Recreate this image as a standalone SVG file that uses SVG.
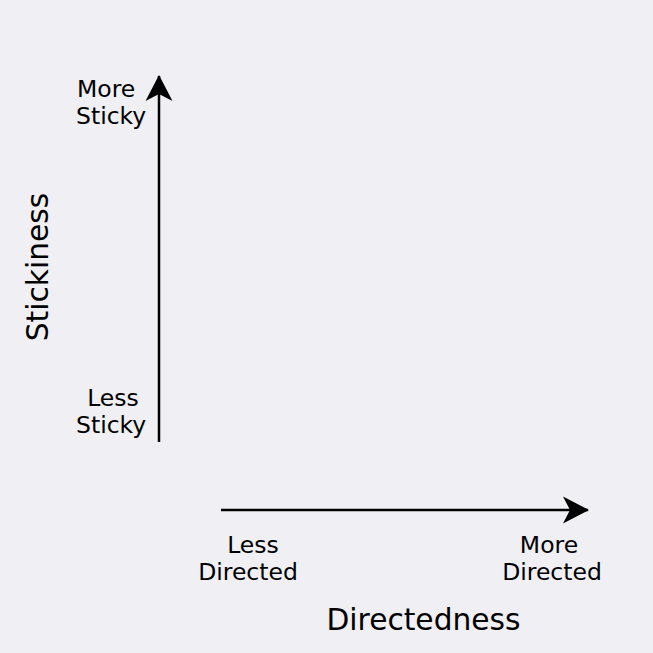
<svg xmlns="http://www.w3.org/2000/svg" width="653" height="653" viewBox="0 0 653 653">
<style>
.lbl{font-family:"DejaVu Sans",sans-serif;font-size:23.5px;fill:#000}
.ttl{font-family:"DejaVu Sans",sans-serif;font-size:29.7px;fill:#000}
.ax{stroke:#000;stroke-width:2.5;fill:none}
</style>
<defs>
<marker id="ah" viewBox="0 0 26 28" refX="25" refY="14" markerWidth="26" markerHeight="28" markerUnits="userSpaceOnUse" orient="auto">
<path d="M0,0.5 L26,14 L0,27.5 L7,14 Z" fill="#000"/>
</marker>
</defs>
<rect width="653" height="653" fill="#efeff4"/>
<g id="connectors">
<line class="ax" x1="159" y1="442" x2="159" y2="76" marker-end="url(#ah)"/>
<line class="ax" x1="221" y1="510" x2="588" y2="510" marker-end="url(#ah)"/>
</g>
<g id="more-sticky">
<text class="lbl" x="77" y="97">More</text>
<text class="lbl" x="76" y="124">Sticky</text>
</g>
<g id="less-sticky">
<text class="lbl" x="113" y="406" text-anchor="middle">Less</text>
<text class="lbl" x="76" y="433">Sticky</text>
</g>
<g id="less-directed">
<text class="lbl" x="253" y="553" text-anchor="middle">Less</text>
<text class="lbl" x="248" y="580" text-anchor="middle">Directed</text>
</g>
<g id="more-directed">
<text class="lbl" x="549" y="553" text-anchor="middle">More</text>
<text class="lbl" x="552" y="580" text-anchor="middle">Directed</text>
</g>
<g id="directedness">
<text class="ttl" x="423.5" y="630" text-anchor="middle">Directedness</text>
</g>
<g id="stickiness">
<text class="ttl" transform="translate(48,267) rotate(-90)" text-anchor="middle">Stickiness</text>
</g>
</svg>
